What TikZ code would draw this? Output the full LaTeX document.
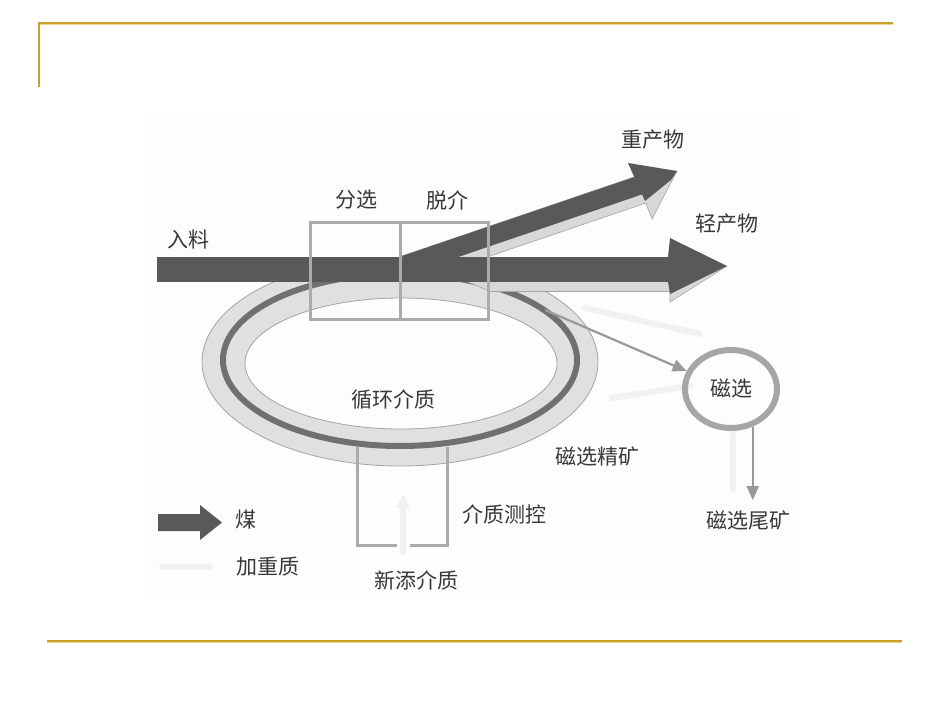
\documentclass[tikz,border=0pt]{standalone}
\usepackage{fontspec}
\newfontfamily\cjk{Noto Sans CJK SC}
\usetikzlibrary{shapes.geometric,arrows.meta}
\definecolor{gold}{HTML}{C9A02C}
\definecolor{goldlight}{HTML}{EED68A}
\definecolor{bardark}{HTML}{595959}
\definecolor{barlight}{HTML}{D8D8D8}
\definecolor{ringfill}{HTML}{E0E0E0}
\definecolor{ringedge}{HTML}{A4A4A4}
\definecolor{ringline}{HTML}{707070}
\definecolor{boxgray}{HTML}{ABABAB}
\definecolor{txt}{HTML}{383838}
\definecolor{faint}{HTML}{F1F1F1}
\begin{document}
\begin{tikzpicture}[x=1pt,y=-1pt,
 lbl/.style={font=\cjk\fontsize{21}{23}\selectfont, text=txt, inner sep=0pt},
 darkpart/.style={fill=bardark, draw=none},
 lightpart/.style={fill=barlight, draw=ringedge, line width=0.6pt, line join=round},
 unitbox/.style={draw=boxgray, line width=3pt},
 flow/.style={draw=gray!80, line width=2.2pt, -{Triangle[length=14pt,width=12pt]}},
 faintflow/.style={draw=faint, line width=6pt, line cap=round},
]
\useasboundingbox (0,0) rectangle (950,713);
\fill[white] (0,0) rectangle (950,713);
\fill[black!0.7] (145,118) rectangle (800,595);

% gold frame lines
\draw[gold, line width=2pt] (38,22.5) -- (893,22.5);
\draw[goldlight, line width=1pt] (38,24.5) -- (893,24.5);
\draw[gold, line width=2pt] (39,22) -- (39,87);
\draw[gold, line width=2pt] (47,640.5) -- (902,640.5);
\draw[goldlight, line width=1pt] (47,642.5) -- (902,642.5);

% faint medium streaks
\draw[faintflow] (585,308) -- (700,334);
\draw[faintflow] (612,398) -- (690,386);
\draw[faintflow] (733,434) -- (733,490);
\draw[faintflow] (162,567) -- (210,567);
\draw[faintflow] (403,552) -- (403,505);
\fill[faint] (396,508) -- (403,494) -- (410,508) -- cycle;

% circulating medium ring
\fill[ringfill, even odd rule] (400,362) ellipse [x radius=198, y radius=104]
  (401,363.5) ellipse [x radius=156, y radius=65.5];
\draw[ringedge, line width=0.8pt] (400,362) ellipse [x radius=198, y radius=104];
\draw[ringedge, line width=0.8pt] (401,363.5) ellipse [x radius=156, y radius=65.5];
\draw[ringline, line width=6pt] (400,360) ellipse [x radius=177, y radius=86];

% light undersides of product arrows
\filldraw[lightpart] (430,276.5) -- (645.8,203.1) -- (652,219) -- (677,171)
  -- (634,177) -- (402,256) -- cycle;
\filldraw[lightpart] (466,281) -- (490,291.5) -- (670,291.5) -- (670,302)
  -- (727,266) -- (670,270) -- cycle;

% dark coal flow
\fill[darkpart] (157,257) rectangle (670,281.5);
\fill[darkpart] (402,256) -- (634.3,177.1) -- (628,163) -- (677,171) -- (671,180)
  -- (645,201) -- (642.1,194.4) -- (420,270) -- cycle;
\fill[darkpart] (668,257) -- (670,238) -- (727,266) -- (670,294) -- (668,281.5) -- cycle;

% process boxes
\node[unitbox, minimum width=90pt, minimum height=97pt, inner sep=0pt] (sep) at (355,270.5) {};
\node[unitbox, minimum width=88pt, minimum height=97pt, inner sep=0pt] (dem) at (444,270.5) {};
\draw[unitbox] (397,545) -- (357,545) -- (357,447);
\draw[unitbox] (410,545) -- (447,545) -- (447,447);

% magnetic separator
\node[lbl, draw=gray!70, line width=6pt, ellipse, minimum width=92pt, minimum height=78pt] (mag) at (731,389) {磁选};
\coordinate (ringpt) at (545,310);
\coordinate (tailend) at (753,500);
\draw[flow] (ringpt) -- (mag.158);
\draw[flow] (mag.-60) -- (mag.-60 |- tailend);

% legend arrow
\fill[darkpart] (158,514) -- (200,514) -- (200,505) -- (222,522.5) -- (200,540)
  -- (200,531) -- (158,531) -- cycle;

% labels
\node[lbl] (heavy) at (653,140) {重产物};
\node[lbl] (light) at (727,224) {轻产物};
\node[lbl] (lsep) at (356,200) {分选};
\node[lbl] (ldem) at (447,200) {脱介};
\node[lbl] (feed) at (188,240) {入料};
\node[lbl] (circ) at (393,400) {循环介质};
\node[lbl] (conc) at (597,456) {磁选精矿};
\node[lbl] (tail) at (748,520) {磁选尾矿};
\node[lbl] (ctrl) at (504,514) {介质测控};
\node[lbl] (newm) at (416,580) {新添介质};
\node[lbl] (coal) at (246,520) {煤};
\node[lbl] (dense) at (268,567) {加重质};
\end{tikzpicture}
\end{document}
